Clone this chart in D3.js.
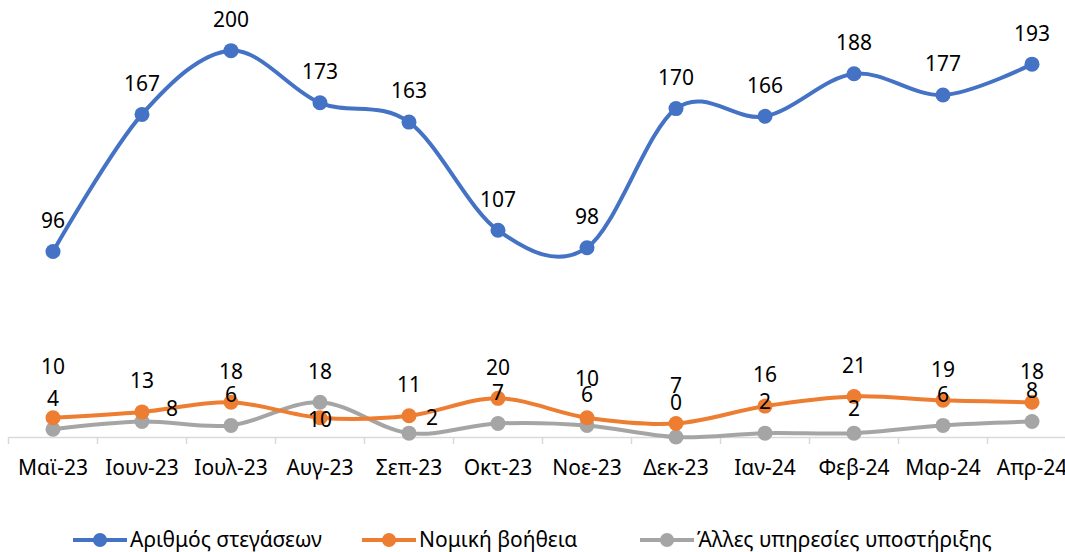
<!DOCTYPE html>
<html>
<head>
<meta charset="utf-8">
<script src="https://cdn.jsdelivr.net/npm/d3@7"></script>
<style>
    body { margin: 0; background: #fff; }
    svg { display: block; font-family: "Noto Sans", sans-serif; }
</style>
</head>
<body>
<script>
    const months = ["Μαϊ-23", "Ιουν-23", "Ιουλ-23", "Αυγ-23", "Σεπ-23", "Οκτ-23", "Νοε-23", "Δεκ-23", "Ιαν-24", "Φεβ-24", "Μαρ-24", "Απρ-24"];
    const housing = [96, 167, 200, 173, 163, 107, 98, 170, 166, 188, 177, 193];
    const legalAid = [10, 13, 18, 10, 11, 20, 10, 7, 16, 21, 19, 18];
    const otherSupport = [4, 8, 6, 18, 2, 7, 6, 0, 2, 2, 6, 8];

    const seriesNames = ["Αριθμός στεγάσεων", "Νομική βοήθεια", "Άλλες υπηρεσίες υποστήριξης"];
    const seriesColors = ["#4472C4", "#ED7D31", "#A5A5A5"];

    // hand-moved data labels (like in the original sheet): series index -> month index -> [dx, dy]
    const labelNudge = {
        1: {0: [0, -20], 3: [0, 33], 6: [0, -8], 7: [0, -7]},
        2: {1: [30, 18], 4: [23, 16], 7: [0, -3], 9: [0, 7]}
    };

    const width = 1065;
    const height = 552;
    const margin = {top: 12, right: -11.5, bottom: 115, left: 8.5};
    const fontSize = 21;

    const svg = d3.select("body").append("svg")
        .attr("width", width)
        .attr("height", height);

    const x = d3.scaleBand()
        .domain(months)
        .range([margin.left, width - margin.right]);

    const y = d3.scaleLinear()
        .domain([0, 220])
        .range([height - margin.bottom, margin.top]);

    const cx = m => x(m) + x.bandwidth() / 2;

    // category axis
    const xAxis = svg.append("g")
        .attr("transform", `translate(0,${y(0)})`)
        .call(d3.axisBottom(x).tickSize(0).tickPadding(23));
    xAxis.select(".domain").attr("stroke", "#d9d9d9").attr("stroke-width", 1.5);
    xAxis.selectAll(".tick text")
        .attr("font-size", fontSize)
        .attr("fill", "#000")
        .attr("font-family", "Noto Sans, sans-serif");

    svg.append("g")
        .selectAll("line")
        .data(months.concat(["end"]))
        .join("line")
        .attr("x1", (d, i) => margin.left + i * x.step())
        .attr("x2", (d, i) => margin.left + i * x.step())
        .attr("y1", y(0))
        .attr("y2", y(0) + 7)
        .attr("stroke", "#d9d9d9")
        .attr("stroke-width", 1.5);

    const series = [
        {name: seriesNames[0], color: seriesColors[0], values: housing},
        {name: seriesNames[1], color: seriesColors[1], values: legalAid},
        {name: seriesNames[2], color: seriesColors[2], values: otherSupport}
    ];

    const line = d3.line()
        .x((d, i) => cx(months[i]))
        .y(d => y(d))
        .curve(d3.curveCatmullRom.alpha(0));

    // draw back-to-front so blue sits on top
    [2, 1, 0].forEach(k => {
        const s = series[k];
        const g = svg.append("g");
        g.append("path")
            .datum(s.values)
            .attr("fill", "none")
            .attr("stroke", s.color)
            .attr("stroke-width", 4)
            .attr("stroke-linecap", "round")
            .attr("d", line);
        g.selectAll("circle")
            .data(s.values)
            .join("circle")
            .attr("cx", (d, i) => cx(months[i]))
            .attr("cy", d => y(d))
            .attr("r", 7.5)
            .attr("fill", s.color);
    });

    // data labels
    series.forEach((s, k) => {
        const nudge = (i, j) => ((labelNudge[k] || {})[i] || [0, 0])[j];
        svg.append("g")
            .selectAll("text")
            .data(s.values)
            .join("text")
            .attr("x", (d, i) => cx(months[i]) + nudge(i, 0))
            .attr("y", (d, i) => y(d) - 31 + nudge(i, 1))
            .attr("dy", "0.35em")
            .attr("text-anchor", "middle")
            .attr("font-size", fontSize)
            .attr("fill", "#000")
            .text(d => d);
    });

    // legend
    const legendX = [73, 362, 640];
    const legend = svg.append("g")
        .attr("transform", `translate(0,${height - 12})`);
    series.forEach((s, i) => {
        const item = legend.append("g").attr("transform", `translate(${legendX[i]},0)`);
        item.append("line")
            .attr("x1", 0).attr("x2", 54)
            .attr("stroke", s.color)
            .attr("stroke-width", 4);
        item.append("circle")
            .attr("cx", 27)
            .attr("r", 7)
            .attr("fill", s.color);
        item.append("text")
            .attr("x", 57)
            .attr("dy", "0.33em")
            .attr("font-size", fontSize)
            .attr("fill", "#000")
            .text(s.name);
    });
</script>
</body>
</html>
